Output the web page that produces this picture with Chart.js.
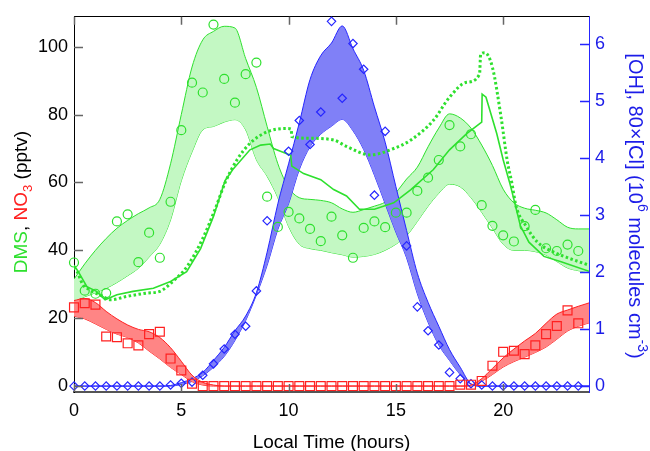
<!DOCTYPE html>
<html>
<head>
<meta charset="utf-8">
<script src="https://cdn.jsdelivr.net/npm/chart.js@4.4.1/dist/chart.umd.min.js"></script>
<style>
  body { margin: 0; background: #fff; }
  canvas { display: block; }
</style>
</head>
<body>
<canvas id="chart" width="650" height="451"></canvas>
<script>
// observations, every half hour
const obsHours = [0, 0.5, 1, 1.5, 2, 2.5, 3, 3.5, 4, 4.5, 5, 5.5, 6, 6.5, 7, 7.5, 8, 8.5, 9, 9.5,
  10, 10.5, 11, 11.5, 12, 12.5, 13, 13.5, 14, 14.5, 15, 15.5, 16, 16.5, 17, 17.5, 18, 18.5, 19, 19.5,
  20, 20.5, 21, 21.5, 22, 22.5, 23, 23.5];
const dmsObs = [36.4, 28.1, 27.2, 27.4, 48.5, 50.6, 36.5, 45.2, 37.8, 54.3,
  75.4, 89.4, 86.5, 106.5, 90.5, 83.5, 91.9, 95.3, 55.8, 46.9,
  51.3, 49.4, 46.3, 42.7, 49.9, 44.4, 37.8, 46.6, 48.5, 46.8,
  51.1, 51.1, 57.5, 61.4, 66.6, 76.9, 70.6, 74.2, 53.3, 47.2,
  44.4, 42.6, 47.1, 51.9, 40.6, 39.8, 41.7, 39.8];
const no3Obs = [23.2, 24.4, 24.0, 14.6, 14.4, 12.6, 12.0, 15.3, 16.0, 8.1, 4.6, 0.7,
  0, 0, 0, 0, 0, 0, 0, 0, 0, 0, 0, 0, 0, 0, 0, 0, 0, 0, 0, 0, 0, 0, 0, 0,
  0.4, 0.4, 1.5, 6.0, 10.1, 10.4, 9.4, 12.0, 15.3, 17.7, 22.3, 18.5];
const ohObs = [0, 0, 0, 0, 0, 0, 0, 0, 0,
  0.02, 0.05, 0.07, 0.19, 0.39, 0.65, 0.91, 1.05, 1.67, 2.9, null,
  4.12, 4.66, 4.24, 4.81, 6.40, 5.05, 6.01, 5.56, 3.35, 4.47,
  null, 2.46, 1.39, 0.97, 0.72, 0.24, 0.13, 0.04, 0.02,
  0, 0, 0, 0, 0, 0, 0, 0, 0];

// model ranges
const modelHours = [0, 0.5, 1, 1.5, 2, 2.5, 3, 3.5, 4, 4.5, 5, 5.5, 6, 6.5, 7, 7.5, 8, 8.5, 9, 9.5,
  10, 10.5, 11, 11.5, 12, 12.5, 13, 13.5, 14, 14.5, 15, 15.5, 16, 16.5, 17, 17.5, 18, 18.5, 19, 19.5,
  20, 20.5, 21, 21.5, 22, 22.5, 23, 23.5, 24];
const dmsHigh = [31.5, 36, 40, 43.5, 46.5, 48.8, 50.8, 52.5, 55,
  65.5, 80, 94, 102, 104.5, 106, 105.5, 96.5, 88,
  76.5, 65.5, 58.5, 55.5, 55, 54.7, 54, 52.2, 51.2,
  52, 53, 54.2, 57, 61, 64.5, 70.5, 76, 80.2,
  79, 76, 71, 65, 58, 54, 52.4, 51.8, 51,
  49, 46.8, 46.3, 46.3];
const dmsLow = [25, 26.3, 27.5, 28.8, 30.5, 32.5, 34.7, 38, 41.8,
  49, 60.5, 69, 75.5, 76.5, 77.8, 78.5, 75.5, 66.7,
  61.8, 55.5, 47, 41.8, 40.5, 40, 39.3, 38.7, 38,
  38.2, 38.8, 40, 41.8, 44.3, 48.5, 53, 56.8, 59.5,
  58.7, 55.5, 51.2, 46.5, 41.8, 40, 40, 39.6, 38.6,
  36.7, 34.8, 34, 33.5];
const no3High = [25.2, 25.8, 24.6, 22, 19.8, 18, 16.7, 16, 14.3, 11.3, 7.3, 3.2, 1.1, 0.3,
  0, 0, 0, 0, 0, 0, 0, 0, 0, 0, 0, 0, 0, 0, 0, 0, 0, 0, 0, 0, 0, 0, 0,
  0.3, 2.2, 5.2, 8.3, 10.9, 13.3, 15.5, 18.5, 21.2, 22.4, 23.5, 24.5];
const no3Low = [20.6, 19.8, 18.3, 16.7, 15.3, 14.3, 12.7, 10.3, 8, 5.5, 3.4, 1.3, 0.3,
  0, 0, 0, 0, 0, 0, 0, 0, 0, 0, 0, 0, 0, 0, 0, 0, 0, 0, 0, 0, 0, 0, 0, 0, 0,
  1.4, 3.4, 5.6, 7.2, 8.5, 9.9, 11.5, 13.8, 16.2, 17.6, 18.6];
const ohHigh = [0, 0, 0, 0, 0, 0, 0, 0, 0,
  0.01, 0.06, 0.13, 0.24, 0.45, 0.68, 0.97, 1.23, 1.64, 2.35, 3.2, 3.9, 4.62, 5.38, 5.8,
  6.02, 6.32, 5.92, 5.54, 4.9, 4.28, 3.5, 2.73, 1.98, 1.47, 1.05, 0.64, 0.33, 0.04,
  0, 0, 0, 0, 0, 0, 0, 0, 0, 0, 0];
const ohLow = [0, 0, 0, 0, 0, 0, 0, 0, 0, 0,
  0.03, 0.08, 0.18, 0.33, 0.52, 0.8, 1.15, 1.6, 2.12, 2.75, 3.2, 3.8, 4.2, 4.42,
  4.56, 4.68, 4.48, 4.15, 3.7, 3.2, 2.7, 2.25, 1.62, 1.12, 0.72, 0.45, 0.2, 0.03,
  0, 0, 0, 0, 0, 0, 0, 0, 0, 0, 0];

// model runs (solid and dotted)
const runAHours = [0, 0.2, 0.6, 1.05, 1.45, 2, 2.75, 3.7, 4.5, 5.25, 5.9, 6.5, 7.04, 7.4, 8.2, 8.7,
  9.15, 9.3, 10.1, 10.15, 10.7, 11.5, 12.1, 12.7, 13.3, 14, 14.9, 15.7, 16.75, 17.5, 18.3, 19.0,
  19.02, 19.2, 19.7, 20, 20.3, 20.5, 20.8, 21.2, 21.9, 22.7, 24];
const runA = [35.6, 33.7, 29.3, 27.9, 25.4, 26.9, 27.9, 28.8, 30.8, 33.7, 40.5, 50, 60.5, 63.8, 69.6, 71,
  71.3, 70, 68, 64.8, 62.6, 60.8, 57.9, 56, 52.1, 52.1, 54, 57.9, 63.8, 69.6, 74.4, 77.8,
  86, 85.1, 74.4, 66.7, 60, 55, 47.3, 42.4, 38.2, 36.6, 33.8];
const runBHours = [0, 0.15, 0.4, 0.75, 1.35, 1.7, 2.45, 3.4, 4, 4.6, 5.3, 6.0, 6.6, 7.04, 7.6, 8.2,
  9.0, 9.9, 10.12, 10.15, 11, 12.1, 12.7, 13.8, 14.9, 15.7, 16.75, 17.5, 18.3, 18.9, 18.95,
  19.15, 19.5, 19.9, 20.2, 20.4, 20.6, 21.05, 21.6, 22.35, 23.1, 24];
const runB = [35, 33.7, 30, 28.3, 26.4, 25.4, 26.4, 27.4, 27.9, 30.8, 35.5, 43.5, 52.5, 59.9, 66.7, 71.5,
  74.9, 75.9, 75.7, 73.5, 73, 72.5, 70.6, 68.1, 70, 72.5, 78.3, 85.1, 89.5, 91.9, 97.7,
  98.2, 93.9, 79.3, 66, 60, 53, 47.3, 42.4, 39.5, 37.6, 35.6];

const xTicks = [0, 5, 10, 15, 20];
const leftTicks = [0, 20, 40, 60, 80, 100];
const rightTicks = [0, 1, 2, 3, 4, 5, 6];

const FONT = '"Liberation Sans", Arial, Helvetica, sans-serif';
const GREEN = "#2ee02e";
const GREEN_FILL = "#c3f8c3";
const RED = "#ff2020";
const RED_FILL = "#ff8585";
const BLUE = "#2525ff";
const BLUE_FILL = "#8080f7";
const BLUE_TEXT = "#1c1ce8";

function pairs(xs, ys) {
  return xs.map((x, i) => ({ x: x, y: ys[i] }));
}

function band(label, ys, color, fill, axis, order, isUpper) {
  return {
    label: label,
    data: pairs(modelHours, ys),
    yAxisID: axis,
    showLine: true,
    pointRadius: 0,
    borderColor: color,
    borderWidth: 1,
    backgroundColor: fill,
    cubicInterpolationMode: "monotone",
    fill: isUpper ? "+1" : false,
    order: order,
  };
}

function markers(label, ys, color, style, radius, axis) {
  return {
    label: label,
    data: pairs(obsHours, ys),
    yAxisID: axis,
    pointStyle: style,
    pointRadius: radius,
    pointBorderWidth: 1.2,
    pointBorderColor: color,
    pointBackgroundColor: "rgba(0,0,0,0)",
    clip: false,
    order: 0,
  };
}

// inward ticks and the axis titles
const frameTicks = {
  id: "frameTicks",
  afterDraw(chart) {
    const ctx = chart.ctx;
    const area = chart.chartArea;
    const { x, y, y1 } = chart.scales;
    ctx.save();
    ctx.lineWidth = 1.5;
    ctx.strokeStyle = "#666";
    ctx.beginPath();
    xTicks.forEach((v) => {
      const px = Math.round(x.getPixelForValue(v)) + 0.5;
      ctx.moveTo(px, area.bottom);
      ctx.lineTo(px, area.bottom - 8);
      ctx.moveTo(px, area.top);
      ctx.lineTo(px, area.top + 8);
    });
    leftTicks.forEach((v) => {
      const py = Math.round(y.getPixelForValue(v)) + 0.5;
      ctx.moveTo(area.left, py);
      ctx.lineTo(area.left + 9, py);
    });
    ctx.stroke();
    ctx.strokeStyle = BLUE;
    ctx.beginPath();
    rightTicks.forEach((v) => {
      const py = Math.round(y1.getPixelForValue(v)) + 0.5;
      ctx.moveTo(area.right, py);
      ctx.lineTo(area.right - 9, py);
    });
    ctx.stroke();

    ctx.fillStyle = "#000";
    ctx.font = "19px " + FONT;
    ctx.textAlign = "center";
    ctx.textBaseline = "alphabetic";
    ctx.fillText("Local Time (hours)", (area.left + area.right) / 2, 448);

    drawRotated(ctx, 26.5, 202, -Math.PI / 2, 19, [
      { t: "DMS", c: GREEN },
      { t: ", ", c: "#000" },
      { t: "NO", c: RED },
      { t: "3", c: RED, sub: true },
      { t: " (pptv)", c: "#000" },
    ]);
    drawRotated(ctx, 628.5, 206, Math.PI / 2, 20, [
      { t: "[OH], 80\u00d7[Cl] (10", c: BLUE_TEXT },
      { t: "6", c: BLUE_TEXT, sup: true },
      { t: " molecules cm", c: BLUE_TEXT },
      { t: "-3", c: BLUE_TEXT, sup: true },
      { t: ")", c: BLUE_TEXT },
    ]);
    ctx.restore();
  },
};

function drawRotated(ctx, cx, cy, angle, size, parts) {
  const big = size + "px " + FONT;
  const small = Math.round(size * 0.68) + "px " + FONT;
  let total = 0;
  parts.forEach((p) => {
    ctx.font = p.sub || p.sup ? small : big;
    p.w = ctx.measureText(p.t).width;
    total += p.w;
  });
  ctx.save();
  ctx.translate(cx, cy);
  ctx.rotate(angle);
  ctx.textAlign = "left";
  ctx.textBaseline = "alphabetic";
  let pos = -total / 2;
  parts.forEach((p) => {
    ctx.font = p.sub || p.sup ? small : big;
    ctx.fillStyle = p.c;
    let dy = 0;
    if (p.sub) dy = 5;
    if (p.sup) dy = -9;
    ctx.fillText(p.t, pos, dy);
    pos += p.w;
  });
  ctx.restore();
}

function fixedTicks(values) {
  return (scale) => {
    scale.ticks = values.map((v) => ({ value: v }));
  };
}

const tickFont = { family: FONT, size: 18 };

new Chart(document.getElementById("chart").getContext("2d"), {
  type: "scatter",
  data: {
    datasets: [
      markers("DMS obs", dmsObs, GREEN, "circle", 4.5, "y"),
      markers("NO3 obs", no3Obs, RED, "rect", 6.3, "y"),
      markers("OH obs", ohObs, BLUE, "rectRot", 4.2, "y1"),
      {
        label: "DMS run A",
        data: pairs(runAHours, runA),
        showLine: true,
        pointRadius: 0,
        borderColor: GREEN,
        borderWidth: 1.6,
        order: 1,
      },
      {
        label: "DMS run B",
        data: pairs(runBHours, runB),
        showLine: true,
        pointRadius: 0,
        borderColor: GREEN,
        borderWidth: 3,
        borderDash: [2.5, 2.5],
        cubicInterpolationMode: "monotone",
        order: 1,
      },
      band("NO3 high", no3High, RED, RED_FILL, "y", 2, true),
      band("NO3 low", no3Low, RED, RED_FILL, "y", 2, false),
      band("OH high", ohHigh, BLUE, BLUE_FILL, "y1", 3, true),
      band("OH low", ohLow, BLUE, BLUE_FILL, "y1", 3, false),
      band("DMS high", dmsHigh, GREEN, GREEN_FILL, "y", 4, true),
      band("DMS low", dmsLow, GREEN, GREEN_FILL, "y", 4, false),
    ],
  },
  options: {
    responsive: false,
    animation: false,
    devicePixelRatio: 1,
    layout: { padding: 0 },
    plugins: {
      legend: { display: false },
      tooltip: { enabled: false },
    },
    scales: {
      x: {
        type: "linear",
        position: "bottom",
        min: 0,
        max: 24,
        afterBuildTicks: fixedTicks(xTicks),
        afterFit: (s) => { s.height = 59; },
        grid: { display: false, drawTicks: false },
        border: { display: true, color: "#555", width: 2 },
        ticks: { font: tickFont, color: "#000", padding: 8, maxRotation: 0, autoSkip: false },
      },
      x2: {
        type: "linear",
        position: "top",
        min: 0,
        max: 24,
        afterFit: (s) => { s.height = 12; },
        grid: { display: false, drawTicks: false },
        border: { display: true, color: "#000", width: 1 },
        ticks: { display: false },
      },
      y: {
        position: "left",
        min: -1.75,
        max: 108.8,
        afterBuildTicks: fixedTicks(leftTicks),
        afterFit: (s) => { s.width = 74; },
        grid: { display: false, drawTicks: false },
        border: { display: true, color: "#000", width: 1 },
        ticks: { font: tickFont, color: "#000", padding: 6 },
      },
      y1: {
        position: "right",
        min: -0.104,
        max: 6.48,
        afterBuildTicks: fixedTicks(rightTicks),
        afterFit: (s) => { s.width = 61; },
        grid: { display: false, drawTicks: false },
        border: { display: true, color: BLUE, width: 1 },
        ticks: { font: tickFont, color: BLUE_TEXT, padding: 6 },
      },
    },
  },
  plugins: [frameTicks],
});
</script>
</body>
</html>
